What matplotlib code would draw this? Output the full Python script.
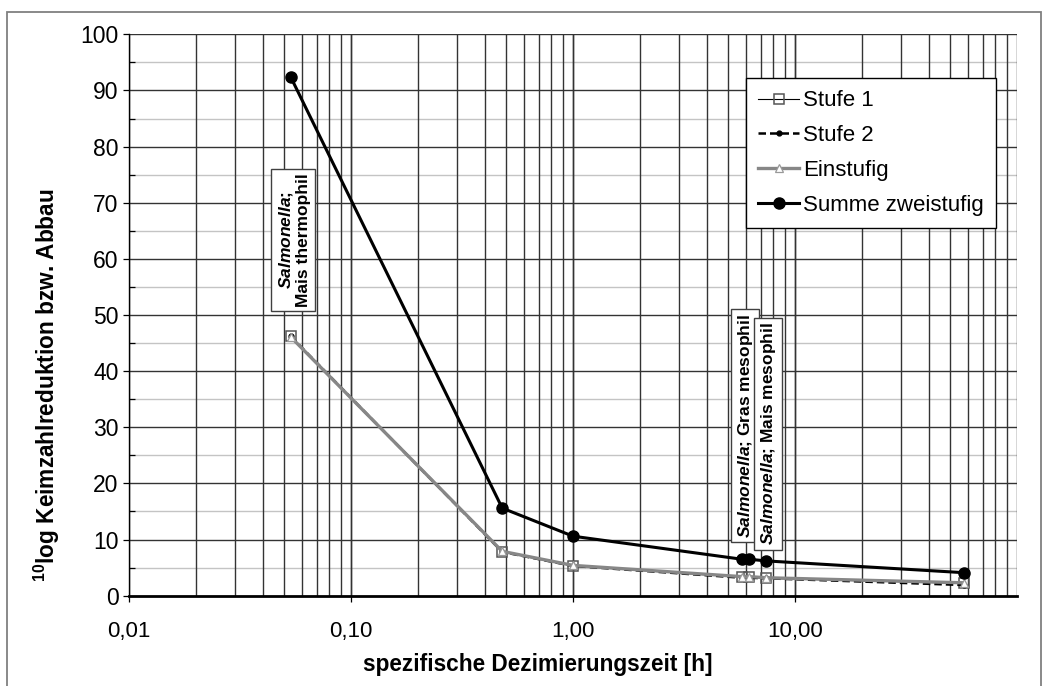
import matplotlib
matplotlib.use("Agg")
import matplotlib.pyplot as plt
from matplotlib.patches import Rectangle
from matplotlib.ticker import FixedLocator, MultipleLocator

plt.rcParams["font.family"] = ["Liberation Sans", "DejaVu Sans"]
plt.rcParams["mathtext.fontset"] = "custom"
plt.rcParams["mathtext.rm"] = "Liberation Sans"
plt.rcParams["mathtext.it"] = "Liberation Sans:italic"
plt.rcParams["mathtext.bf"] = "Liberation Sans:bold"
plt.rcParams["mathtext.bfit"] = "Liberation Sans:italic:bold"

# Decimation time [h] and log reductions per process stage
zeit = [0.0535, 0.48, 1.0, 5.75, 6.2, 7.4, 57.7]
stufe1 = [46.2, 7.8, 5.3, 3.3, 3.3, 3.1, 2.2]
stufe2 = [46.2, 7.8, 5.3, 3.2, 3.2, 3.1, 1.9]
einstufig = [46.1, 7.9, 5.4, 3.4, 3.4, 3.2, 2.3]
summe = [92.4, 15.6, 10.6, 6.5, 6.5, 6.2, 4.1]

x_ticks = [0.01, 0.1, 1.0, 10.0]
x_ticklabels = ["0,01", "0,10", "1,00", "10,00"]
y_ticks = list(range(0, 101, 10))

fig = plt.figure(figsize=(10.5, 6.86), dpi=100)
ax = fig.add_axes([129 / 1050, 1 - 595.7 / 686, 888 / 1050, 561.4 / 686])

ax.set_xscale("log")
ax.set_xlim(0.01, 100)
ax.set_ylim(0, 100)

# grid: all decade and sub-decade verticals dark, horizontal 10s dark, 5s light
for dec in [0.01, 0.1, 1, 10]:
    for m in range(1, 11):
        ax.axvline(dec * m, color="#333333", lw=1.0, zorder=0.5)
for yv in range(10, 101, 10):
    ax.axhline(yv, color="#333333", lw=1.0, zorder=0.5)
for yv in range(5, 100, 10):
    ax.axhline(yv, color="#c4c4c4", lw=1.0, zorder=0.4)

ax.plot(zeit, stufe1, color="black", lw=0.8, marker="s", ms=6.5,
        mfc="none", mec="#555555", mew=1.1, label="Stufe 1", zorder=2)
ax.plot(zeit, stufe2, color="black", lw=1.8, dashes=[3, 1.6], marker="o",
        ms=3.5, mfc="black", mec="black", label="Stufe 2", zorder=2.1)
ax.plot(zeit, einstufig, color="#878787", lw=2.4, marker="^", ms=5.5,
        mfc="white", mec="#999999", mew=0.9, label="Einstufig", zorder=2.2)
ax.plot(zeit, summe, color="black", lw=2.2, marker="o", ms=8,
        mfc="black", mec="black", label="Summe zweistufig", zorder=2.3)

ax.xaxis.set_major_locator(FixedLocator(x_ticks))
ax.xaxis.set_minor_locator(FixedLocator([]))
ax.set_xticklabels(x_ticklabels)
ax.yaxis.set_major_locator(FixedLocator(y_ticks))
ax.yaxis.set_minor_locator(MultipleLocator(5))

ax.tick_params(axis="x", which="major", direction="out", length=4.5,
               width=0.9, pad=14, labelsize=16, colors="black")
ax.tick_params(axis="y", which="major", direction="out", length=4.5,
               width=0.9, pad=3, labelsize=16.5, colors="black")
ax.tick_params(axis="y", which="minor", direction="in", length=4.5, width=0.9)

for s in ["top", "right"]:
    ax.spines[s].set_visible(False)
ax.spines["left"].set_linewidth(1.0)
ax.spines["bottom"].set_linewidth(2.0)
ax.spines["bottom"].set_zorder(3)

leg = ax.legend(loc="upper left", bbox_to_anchor=(0.695, 0.922),
                borderaxespad=0, fontsize=16, frameon=True, fancybox=False,
                edgecolor="black", framealpha=1, numpoints=1,
                handlelength=1.85, handletextpad=0.15, labelspacing=0.62,
                borderpad=0.55)
leg.get_frame().set_linewidth(1.0)
leg.set_zorder(5)

box = dict(boxstyle="square,pad=0.25", fc="white", ec="#404040", lw=1.0)
ax.annotate("$\\mathbfit{Salmonella}$;\nMais thermophil",
            xy=(zeit[0], 63.4), xytext=(2.4, 0), textcoords="offset points",
            rotation=90, ha="center", va="center", fontsize=12.5,
            fontweight="bold", linespacing=1.1, bbox=box, zorder=4)
ax.annotate("$\\mathbfit{Salmonella}$; Gras mesophil",
            xy=((zeit[3] * zeit[4]) ** 0.5, 30.3), xytext=(0, 0),
            textcoords="offset points", rotation=90, ha="center", va="center",
            fontsize=12.5, fontweight="bold", bbox=box, zorder=4)
ax.annotate("$\\mathbfit{Salmonella}$; Mais mesophil",
            xy=(zeit[5], 28.8), xytext=(1.5, 0), textcoords="offset points",
            rotation=90, ha="center", va="center", fontsize=12.5,
            fontweight="bold", bbox=box, zorder=4.1)

fig.text(538 / 1050, 1 - 665 / 686, "spezifische Dezimierungszeit [h]",
         ha="center", va="center", fontsize=16.3, fontweight="bold")
fig.text(47 / 1050, 1 - 385 / 686,
         "$^{\\mathbf{10}}$log Keimzahlreduktion bzw. Abbau",
         ha="center", va="center", rotation=90, fontsize=16.3,
         fontweight="bold")

fig.add_artist(Rectangle((7.3 / 1050, -0.02), (1041 - 7.3) / 1050,
                         1.02 - 11.7 / 686, transform=fig.transFigure,
                         fill=False, ec="#808080", lw=1.3))

fig.savefig("out.png", dpi=100)
